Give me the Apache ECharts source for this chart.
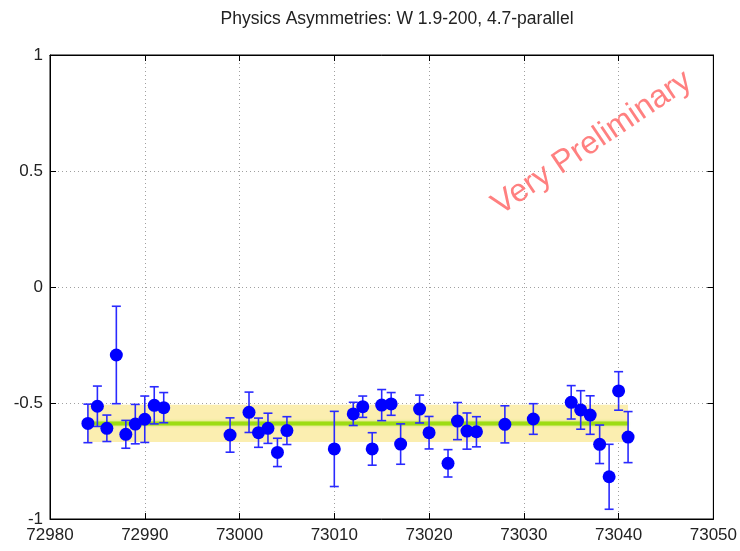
<!DOCTYPE html>
<html>
<head>
<meta charset="utf-8">
<script src="https://cdn.jsdelivr.net/npm/echarts@6/dist/echarts.min.js"></script>
<style>
  html, body { margin: 0; padding: 0; background: #fff; }
  #chart { width: 740px; height: 551px; }
</style>
</head>
<body>
<div id="chart"></div>
<script>
// Run numbers
const runs = [72984, 72985, 72986, 72987, 72988, 72989, 72990, 72991, 72992,
  72999, 73001, 73002, 73003, 73004, 73005, 73010, 73012, 73013, 73014,
  73015, 73016, 73017, 73019, 73020, 73022, 73023, 73024, 73025, 73028,
  73031, 73035, 73036, 73037, 73038, 73039, 73040, 73041];
// Asymmetry per run
const asym = [-0.588, -0.514, -0.609, -0.293, -0.635, -0.591, -0.570, -0.510, -0.520,
  -0.638, -0.540, -0.628, -0.609, -0.713, -0.619, -0.698, -0.547, -0.516, -0.698,
  -0.509, -0.504, -0.677, -0.526, -0.628, -0.760, -0.578, -0.621, -0.624, -0.592,
  -0.569, -0.497, -0.530, -0.552, -0.678, -0.818, -0.448, -0.647];
// Statistical error per run
const asymErr = [0.083, 0.087, 0.057, 0.210, 0.060, 0.085, 0.100, 0.080, 0.065,
  0.074, 0.087, 0.063, 0.065, 0.061, 0.060, 0.162, 0.050, 0.046, 0.070,
  0.067, 0.049, 0.087, 0.060, 0.070, 0.059, 0.080, 0.078, 0.065, 0.080,
  0.066, 0.072, 0.083, 0.083, 0.083, 0.140, 0.083, 0.110];
// Fitted average and its uncertainty band over the run range
const fitRange = [72984, 73041];
const fitMean = -0.588;
const fitErr = 0.080;
// Axis ticks
const xTicks = [72980, 72990, 73000, 73010, 73020, 73030, 73040, 73050];
const yTicks = [-1, -0.5, 0, 0.5, 1];

const FONT = '"Liberation Sans", Arial, sans-serif';
const chart = echarts.init(document.getElementById('chart'), null, { renderer: 'canvas' });

const points = runs.map((r, i) => [r, asym[i]]);
const bars = runs.map((r, i) => [r, asym[i] - asymErr[i], asym[i] + asymErr[i]]);

const gridLine = { show: true, lineStyle: { color: '#a0a0a0', type: [1, 3], width: 1 } };
const blackLine = { show: true, onZero: false, lineStyle: { color: '#000', width: 1 } };
const tickIn = { show: true, inside: true, length: 6, lineStyle: { color: '#000' } };

const option = {
  animation: false,
  backgroundColor: '#fff',
  grid: { left: 50, right: 25, top: 55, bottom: 32, show: true, borderColor: '#000', borderWidth: 1 },
  xAxis: [
    {
      type: 'value', min: xTicks[0], max: xTicks[xTicks.length - 1], interval: 10,
      axisLine: blackLine, axisTick: tickIn,
      axisLabel: {
        margin: 8, fontFamily: FONT, fontSize: 17, color: '#222', showMaxLabel: true,
        formatter: v => String(v)
      },
      splitLine: gridLine
    },
    {
      type: 'value', position: 'top', min: xTicks[0], max: xTicks[xTicks.length - 1], interval: 10,
      axisLine: blackLine, axisTick: tickIn,
      axisLabel: { show: false }, splitLine: { show: false }
    }
  ],
  yAxis: [
    {
      type: 'value', min: yTicks[0], max: yTicks[yTicks.length - 1], interval: 0.5,
      axisLine: blackLine, axisTick: tickIn,
      axisLabel: { margin: 7, fontFamily: FONT, fontSize: 17, color: '#222', formatter: v => String(v) },
      splitLine: gridLine
    },
    {
      type: 'value', position: 'right', min: yTicks[0], max: yTicks[yTicks.length - 1], interval: 0.5,
      axisLine: blackLine, axisTick: tickIn,
      axisLabel: { show: false }, splitLine: { show: false }
    }
  ],
  series: [
    {
      // uncertainty band of the fit
      type: 'custom', z: 1, silent: true,
      data: [[fitRange[0], fitRange[1], fitMean - fitErr, fitMean + fitErr]],
      renderItem: function (params, api) {
        const p0 = api.coord([api.value(0), api.value(3)]);
        const p1 = api.coord([api.value(1), api.value(2)]);
        return {
          type: 'rect',
          shape: { x: p0[0], y: p0[1], width: p1[0] - p0[0], height: p1[1] - p0[1] },
          style: { fill: '#fbeeb0' }
        };
      }
    },
    {
      // fitted average
      type: 'line', z: 2, silent: true, symbol: 'none',
      data: [[fitRange[0], fitMean], [fitRange[1], fitMean]],
      lineStyle: { color: '#9ddc14', width: 4, shadowColor: 'rgba(160,230,40,0.6)', shadowBlur: 3 }
    },
    {
      // error bars
      type: 'custom', z: 3, silent: true,
      data: bars,
      renderItem: function (params, api) {
        const lo = api.coord([api.value(0), api.value(1)]);
        const hi = api.coord([api.value(0), api.value(2)]);
        const cap = 4.5;
        const st = { stroke: '#2a2aff', lineWidth: 1.6 };
        return {
          type: 'group',
          children: [
            { type: 'line', shape: { x1: lo[0], y1: lo[1], x2: hi[0], y2: hi[1] }, style: st },
            { type: 'line', shape: { x1: lo[0] - cap, y1: lo[1], x2: lo[0] + cap, y2: lo[1] }, style: st },
            { type: 'line', shape: { x1: hi[0] - cap, y1: hi[1], x2: hi[0] + cap, y2: hi[1] }, style: st }
          ]
        };
      }
    },
    {
      type: 'scatter', z: 4, silent: true,
      symbol: 'circle', symbolSize: 13,
      itemStyle: { color: '#0000ff', opacity: 1 },
      data: points
    }
  ],
  graphic: [
    {
      // title
      type: 'text',
      x: 397, y: 19,
      style: {
        text: 'Physics Asymmetries: W 1.9-200, 4.7-parallel',
        fontFamily: FONT, fontSize: 17.5, fill: '#222',
        align: 'center', verticalAlign: 'middle'
      }
    },
    {
      type: 'text',
      x: 592, y: 143,
      rotation: 34 * Math.PI / 180,
      style: {
        text: 'Very Preliminary',
        fontFamily: FONT, fontSize: 32, fill: '#ff8080',
        align: 'center', verticalAlign: 'middle'
      },
      z: 10
    }
  ]
};
chart.setOption(option);
</script>
</body>
</html>
